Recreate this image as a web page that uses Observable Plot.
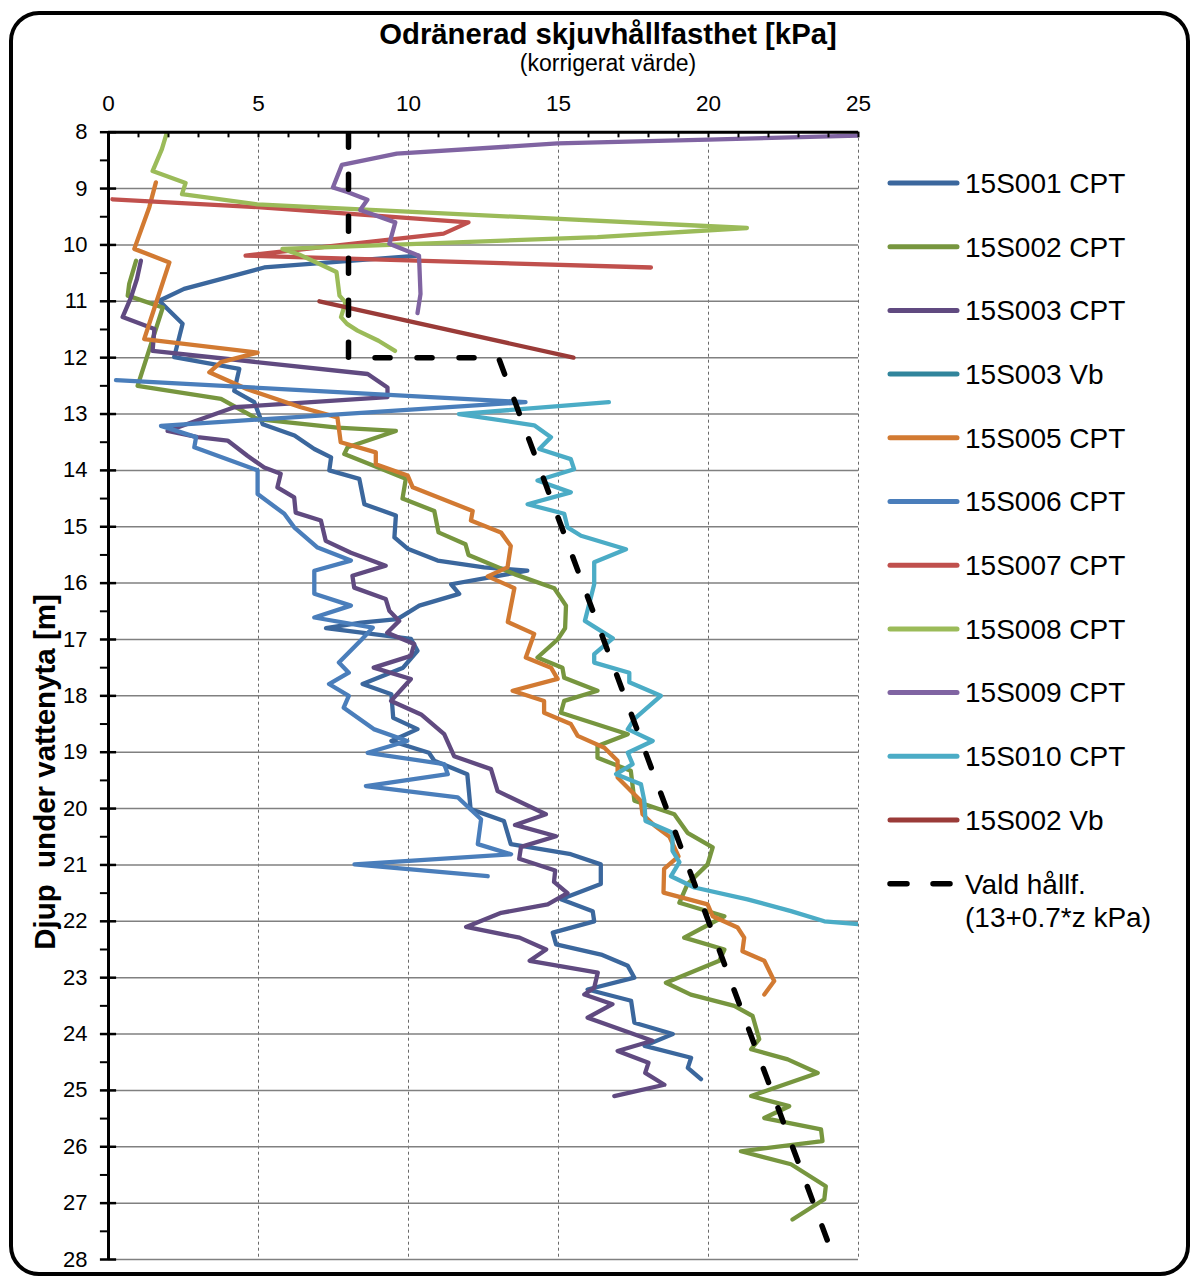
<!DOCTYPE html>
<html><head><meta charset="utf-8">
<script src="https://cdn.jsdelivr.net/npm/d3@7"></script>
<script src="https://cdn.jsdelivr.net/npm/@observablehq/plot@0.6"></script>
<style>
body{margin:0;background:#fff;font-family:"Liberation Sans",Arial,sans-serif;}
#wrap{position:relative;width:1194px;height:1279px;overflow:hidden;background:#fff;}
#frame{position:absolute;left:9px;top:11px;width:1173px;height:1257px;border:4px solid #000;border-radius:30px;}
#chart{position:absolute;left:0;top:0;}
#over{position:absolute;left:0;top:0;}
</style></head>
<body><div id="wrap"><div id="frame"></div><div id="chart"></div><svg id="over" width="1194" height="1279"></svg></div>
<script>
// ---- data: [kPa, depth m] ----
const s15S001 = [[10.33,10.19],[5.19,10.4],[2.52,10.78],[1.69,10.99],[2.47,11.4],[2.19,11.99],[4.36,12.2],[4.19,12.59],[4.86,12.79],[5.14,13.18],[6.2,13.38],[6.86,13.62],[7.42,13.77],[7.36,14.0],[8.36,14.15],[8.53,14.6],[9.58,14.8],[9.53,15.19],[9.97,15.39],[10.97,15.6],[12.52,15.72],[13.96,15.78],[11.42,16.02],[11.69,16.19],[10.36,16.4],[9.63,16.64],[8.42,16.7],[7.25,16.8],[10.08,16.99],[10.3,17.2],[9.82,17.5],[8.47,17.79],[9.43,17.97],[9.49,18.39],[10.3,18.59],[9.43,18.8],[10.68,19.01],[10.86,19.15],[11.96,19.39],[12.07,20.01],[13.18,20.22],[13.41,20.63],[15.41,20.81],[16.41,20.99],[16.41,21.34],[15.08,21.61],[16.14,21.82],[16.19,22.0],[14.81,22.2],[14.92,22.41],[16.42,22.59],[17.31,22.79],[17.53,23.0],[15.97,23.21],[17.42,23.41],[17.53,23.8],[18.81,24.0],[17.87,24.21],[19.42,24.42],[19.31,24.6],[19.75,24.8]];
const s15S002 = [[0.92,10.28],[0.69,10.69],[0.64,10.9],[1.81,11.11],[0.97,12.5],[3.75,12.73],[4.97,13.09],[7.63,13.24],[9.58,13.3],[7.97,13.59],[7.86,13.71],[8.86,13.92],[9.91,14.15],[9.8,14.5],[10.86,14.72],[11.0,15.1],[11.9,15.31],[12.0,15.5],[13.53,15.84],[14.86,16.09],[15.25,16.4],[15.22,16.8],[14.97,17.0],[14.3,17.32],[15.13,17.5],[15.19,17.68],[16.3,17.91],[15.19,18.09],[15.08,18.3],[17.31,18.68],[16.3,18.89],[16.3,19.1],[17.41,19.33],[17.53,19.86],[18.86,20.1],[19.3,20.43],[20.14,20.69],[19.97,20.99],[19.3,21.34],[19.03,21.67],[20.53,21.91],[19.19,22.29],[20.53,22.5],[20.36,22.7],[18.58,23.09],[19.41,23.3],[20.86,23.5],[21.47,23.68],[21.69,24.09],[21.42,24.27],[22.64,24.45],[23.64,24.69],[21.42,25.1],[22.69,25.28],[21.86,25.49],[23.75,25.69],[23.8,25.9],[21.08,26.08],[22.75,26.31],[23.91,26.7],[23.86,26.93],[22.8,27.29]];
const s15S003 = [[1.08,10.28],[0.95,10.6],[0.75,10.93],[0.47,11.28],[1.53,11.49],[1.47,11.88],[8.64,12.29],[9.3,12.53],[9.3,12.7],[4.19,12.88],[1.97,13.3],[2.97,13.41],[3.97,13.47],[4.63,13.74],[5.19,13.95],[5.74,14.06],[5.63,14.3],[6.19,14.48],[6.24,14.75],[7.08,14.89],[7.24,15.25],[8.08,15.46],[9.24,15.69],[8.13,15.87],[8.19,16.08],[9.24,16.28],[9.36,16.49],[9.69,16.67],[9.29,16.88],[10.19,17.08],[10.08,17.29],[8.84,17.5],[10.08,17.7],[9.42,18.09],[10.42,18.33],[11.19,18.68],[11.52,19.07],[12.75,19.3],[12.97,19.69],[14.58,20.1],[13.55,20.29],[14.92,20.49],[13.75,20.68],[13.69,20.89],[14.89,21.1],[14.85,21.3],[15.3,21.5],[14.64,21.7],[13.09,21.85],[11.92,22.1],[13.7,22.29],[14.59,22.5],[14.04,22.7],[16.31,22.91],[16.19,23.18],[15.86,23.3],[16.8,23.47],[15.97,23.71],[18.13,24.12],[16.97,24.3],[18.0,24.51],[17.89,24.69],[18.53,24.9],[16.86,25.1]];
const s15S003Vb = [];
const s15S005 = [[1.58,8.89],[1.36,9.33],[0.86,10.07],[2.03,10.31],[1.61,10.99],[1.19,11.67],[4.97,11.91],[3.75,12.08],[3.36,12.26],[4.63,12.56],[6.41,12.88],[7.63,13.06],[7.74,13.5],[8.91,13.68],[8.91,13.89],[9.97,14.09],[10.14,14.3],[12.14,14.72],[12.08,14.89],[13.08,15.1],[13.41,15.34],[13.3,15.72],[12.64,15.88],[13.53,16.09],[13.31,16.69],[14.19,16.9],[13.91,17.32],[14.75,17.5],[14.97,17.7],[13.47,17.91],[14.52,18.09],[14.52,18.3],[15.41,18.5],[15.64,18.71],[16.53,18.92],[16.97,19.15],[16.97,19.45],[17.74,19.86],[17.8,20.1],[18.2,20.3],[18.7,20.5],[19.0,20.85],[18.52,21.07],[18.5,21.49],[19.97,21.7],[20.14,21.91],[20.97,22.11],[21.19,22.29],[21.13,22.53],[21.86,22.7],[22.19,23.06],[21.86,23.3]];
const s15S006 = [[0.25,12.4],[13.9,12.79],[1.75,13.21],[2.92,13.41],[2.86,13.59],[4.97,14.0],[4.97,14.42],[5.86,14.77],[6.19,15.01],[6.97,15.37],[8.08,15.6],[6.86,15.78],[6.86,16.19],[8.08,16.4],[6.86,16.61],[8.81,16.79],[8.44,17.0],[7.68,17.41],[8.01,17.59],[7.35,17.79],[8.01,18.0],[7.84,18.21],[8.84,18.59],[9.96,18.8],[8.64,19.01],[11.19,19.21],[11.31,19.39],[8.58,19.6],[11.64,19.8],[12.42,20.19],[12.31,20.63],[13.42,20.81],[8.2,20.99],[12.64,21.2]];
const s15S007 = [[0.13,9.19],[4.97,9.33],[12.0,9.6],[11.17,9.8],[4.57,10.19],[18.08,10.4]];
const s15S008 = [[1.95,8.0],[1.78,8.3],[1.47,8.69],[2.57,8.9],[2.45,9.1],[4.96,9.28],[21.28,9.70],[16.3,9.86],[5.8,10.07],[6.4,10.18],[7.6,10.48],[7.7,10.9],[7.9,11.02],[7.75,11.28],[7.95,11.4],[8.3,11.52],[9.0,11.7],[9.55,11.88]];
const s15S009 = [[24.98,8.06],[20,8.13],[14.97,8.2],[9.61,8.38],[7.78,8.58],[7.48,8.98],[7.96,9.06],[8.63,9.2],[8.39,9.38],[9.56,9.6],[9.36,9.98],[10.35,10.19],[10.4,10.87],[10.3,11.21]];
const s15S010 = [[16.68,12.79],[11.68,13.0],[14.19,13.2],[14.75,13.41],[14.36,13.62],[15.41,13.8],[15.52,13.98],[14.3,14.18],[15.41,14.39],[13.97,14.6],[15.19,14.77],[15.3,15.01],[15.75,15.16],[17.25,15.4],[16.19,15.63],[16.19,16.02],[15.88,16.67],[16.81,16.98],[16.19,17.26],[16.19,17.41],[17.36,17.59],[17.36,17.76],[18.41,18.0],[17.53,18.41],[17.31,18.59],[18.14,18.8],[17.31,19.01],[17.47,19.21],[16.92,19.39],[17.75,19.57],[17.86,19.86],[17.9,20.22],[18.8,20.43],[18.8,20.75],[19.03,20.95],[18.75,21.2],[19.53,21.4],[21.3,21.61],[22.75,21.82],[23.86,22.0],[25.0,22.05]];
const s15S002Vb = [[7.03,11.0],[15.5,12.0]];
const valdHallf = [[8,8],[8,12],[13,12],[24.2,28]];

const seriesNames = ["15S001 CPT","15S002 CPT","15S003 CPT","15S003 Vb","15S005 CPT","15S006 CPT","15S007 CPT","15S008 CPT","15S009 CPT","15S010 CPT","15S002 Vb"];
const seriesData = [s15S001,s15S002,s15S003,s15S003Vb,s15S005,s15S006,s15S007,s15S008,s15S009,s15S010,s15S002Vb];
const seriesColors = ["#3B679D","#77963F","#604A80","#31859C","#D27A32","#4A7EBB","#C0504D","#9BBB59","#8064A2","#4BACC6","#9A3B38"];
const xTicks = [0,5,10,15,20,25];
const xMinor = d3.range(0,26,1);
const yTicks = d3.range(8,29,1);
const yMinor = d3.range(8.5,28,1);
const yGrid = d3.range(9,29,1);
const xGrid = [5,10,15,20,25];

const rows = [];
seriesNames.forEach((n,i)=>seriesData[i].forEach(([x,d])=>rows.push({series:n,x,d})));
const dashRows = valdHallf.map(([x,d])=>({x,d}));

const chart = Plot.plot({
  width:1194, height:1279,
  marginLeft:108, marginRight:336, marginTop:131.7, marginBottom:20,
  x:{domain:[0,25], axis:null},
  y:{domain:[8,28], reverse:true, axis:null},
  color:{domain:seriesNames, range:seriesColors},
  style:{fontFamily:"'Liberation Sans', Arial, sans-serif", background:"transparent"},
  marks:[
    Plot.ruleX(xGrid,{stroke:"#6a6a6a", strokeWidth:1, strokeDasharray:"3,3"}),
    Plot.ruleY(yGrid,{stroke:"#808080", strokeWidth:1.5}),
    Plot.line(rows,{x:"x", y:"d", z:"series", stroke:"series", strokeWidth:4.3, strokeLinejoin:"round", strokeLinecap:"round", clip:true}),
    Plot.line(dashRows,{x:"x", y:"d", stroke:"#000", strokeWidth:5.5, strokeDasharray:"15,27", strokeLinecap:"round", clip:true}),
    Plot.ruleX([0],{stroke:"#000", strokeWidth:3}),
    Plot.ruleY([8],{stroke:"#000", strokeWidth:3}),
    Plot.ruleX(xMinor,{y1:8, y2:8.1, stroke:"#000", strokeWidth:2}),
    Plot.ruleY(yTicks,{x1:-0.27, x2:0.27, stroke:"#000", strokeWidth:2.5}),
    Plot.ruleY(yMinor,{x1:-0.27, x2:0, stroke:"#000", strokeWidth:2}),
    Plot.text(xTicks,{x:d=>d, y:7.49, text:d=>String(d), fontSize:22.5, fill:"#000"}),
    Plot.text(yTicks,{x:-0.7, y:d=>d, text:d=>String(d), fontSize:22, textAnchor:"end", fill:"#000"})
  ]
});
document.getElementById("chart").appendChild(chart);

// overlay: title, axis label, legend
const ov = d3.select("#over");
const FF = "'Liberation Sans', Arial, sans-serif";
ov.append("text").attr("x",608).attr("y",44).attr("text-anchor","middle").attr("font-family",FF)
  .attr("font-size",29.3).attr("font-weight","bold").text("Odränerad skjuvhållfasthet [kPa]");
ov.append("text").attr("x",608).attr("y",71).attr("text-anchor","middle").attr("font-family",FF)
  .attr("font-size",23).text("(korrigerat värde)");
ov.append("text").attr("transform","translate(55,772) rotate(-90)").attr("text-anchor","middle").attr("font-family",FF)
  .attr("font-size",29.5).attr("font-weight","bold").attr("xml:space","preserve").style("white-space","pre").text("Djup  under vattenyta [m]");

const legendNames = seriesNames.concat(["Vald hållf."]);
legendNames.forEach((n,i)=>{
  const cy = 183 + i*63.7;
  const g = ov.append("g");
  if(i < seriesNames.length){
    g.append("line").attr("x1",890).attr("x2",957).attr("y1",cy).attr("y2",cy)
      .attr("stroke",seriesColors[i]).attr("stroke-width",5).attr("stroke-linecap","round");
  } else {
    g.append("line").attr("x1",890).attr("x2",957).attr("y1",cy).attr("y2",cy)
      .attr("stroke","#000").attr("stroke-width",5.5).attr("stroke-linecap","round").attr("stroke-dasharray","17,26");
  }
  g.append("text").attr("x",965).attr("y",cy+9.8).attr("font-family",FF).attr("font-size",28).text(n);
  if(i === seriesNames.length){
    g.append("text").attr("x",965).attr("y",cy+9.8+33).attr("font-family",FF).attr("font-size",28).text("(13+0.7*z kPa)");
  }
});
</script></body></html>
